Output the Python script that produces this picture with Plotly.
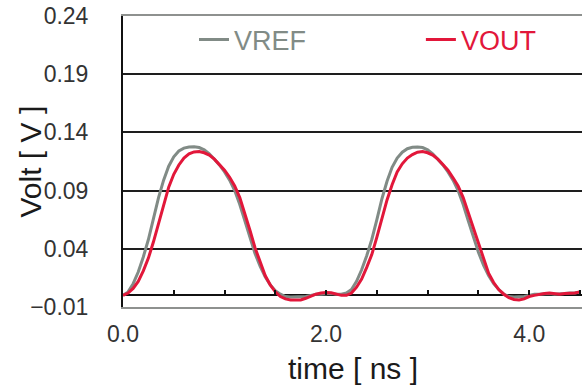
import plotly.graph_objects as go

time_ns = [0.00, 0.05, 0.10, 0.15, 0.20, 0.25, 0.30, 0.35, 0.40, 0.45,
           0.50, 0.55, 0.60, 0.65, 0.70, 0.75, 0.80, 0.85, 0.90, 0.95,
           1.00, 1.05, 1.10, 1.15, 1.20, 1.25, 1.30, 1.35, 1.40, 1.45,
           1.50, 1.55, 1.60, 1.65, 1.70, 1.75, 1.80, 1.85, 1.90, 1.95,
           2.00, 2.05, 2.10, 2.15, 2.20, 2.25, 2.30, 2.35, 2.40, 2.45,
           2.50, 2.55, 2.60, 2.65, 2.70, 2.75, 2.80, 2.85, 2.90, 2.95,
           3.00, 3.05, 3.10, 3.15, 3.20, 3.25, 3.30, 3.35, 3.40, 3.45,
           3.50, 3.55, 3.60, 3.65, 3.70, 3.75, 3.80, 3.85, 3.90, 3.95,
           4.00, 4.05, 4.10, 4.15, 4.20, 4.25, 4.30, 4.35, 4.40, 4.45, 4.50]

vref = [0.000, 0.003, 0.010, 0.020, 0.033, 0.048, 0.066, 0.084, 0.099, 0.111,
        0.119, 0.124, 0.1265, 0.1275, 0.1277, 0.127, 0.125, 0.1215, 0.117, 0.112,
        0.106, 0.099, 0.090, 0.078, 0.064, 0.049, 0.036, 0.025, 0.016, 0.009,
        0.004, 0.001, -0.001, -0.0015, -0.0015, -0.0015, -0.001, 0.000, 0.001, 0.001,
        0.0015, 0.0015, 0.001, 0.001, 0.002, 0.005, 0.012, 0.022, 0.034, 0.048,
        0.065, 0.083, 0.098, 0.110, 0.118, 0.123, 0.126, 0.1272, 0.1275, 0.127,
        0.125, 0.1215, 0.117, 0.112, 0.106, 0.099, 0.090, 0.078, 0.064, 0.050,
        0.037, 0.026, 0.017, 0.010, 0.005, 0.001, -0.001, -0.0015, -0.0015, -0.001,
        0.000, 0.001, 0.001, 0.0015, 0.0015, 0.001, 0.001, 0.0015, 0.002, 0.002, 0.003]

vout = [0.000, 0.002, 0.006, 0.012, 0.021, 0.032, 0.046, 0.062, 0.078, 0.093,
        0.104, 0.112, 0.118, 0.1215, 0.1232, 0.1235, 0.1225, 0.1205, 0.117, 0.1125,
        0.1075, 0.1015, 0.094, 0.084, 0.071, 0.056, 0.041, 0.028, 0.017, 0.009,
        0.003, -0.001, -0.003, -0.004, -0.0042, -0.004, -0.0025, -0.0005, 0.001, 0.002,
        0.0025, 0.0022, 0.0012, 0.000, 0.000, 0.002, 0.007, 0.014, 0.024, 0.035,
        0.050, 0.066, 0.082, 0.095, 0.106, 0.113, 0.118, 0.121, 0.123, 0.1235,
        0.1225, 0.1205, 0.117, 0.1125, 0.1075, 0.101, 0.094, 0.084, 0.071, 0.057,
        0.043, 0.030, 0.019, 0.011, 0.005, 0.001, -0.002, -0.0035, -0.004, -0.003,
        -0.001, 0.000, 0.001, 0.0015, 0.002, 0.0015, 0.001, 0.0015, 0.0015, 0.002, 0.003]

y_ticks = [-0.01, 0.04, 0.09, 0.14, 0.19, 0.24]
y_labels = ["\u22120.01", "0.04", "0.09", "0.14", "0.19", "0.24"]
x_ticks = [0, 2, 4]
x_labels = ["0.0", "2.0", "4.0"]

GRAY = "#818b86"
RED = "#e2173a"
FONT = "Liberation Sans"
TXT = "#333333"

fig = go.Figure()
fig.add_trace(go.Scatter(x=time_ns, y=vref, mode="lines", legend="legend",
                         name='<span style="color:%s">VREF</span>' % GRAY,
                         line=dict(color=GRAY, width=3)))
fig.add_trace(go.Scatter(x=time_ns, y=vout, mode="lines", legend="legend2",
                         name='<span style="color:%s">VOUT</span>' % RED,
                         line=dict(color=RED, width=3)))
# helper trace for the minor-tick axis drawn at y = 0
fig.add_trace(go.Scatter(x=[time_ns[0]], y=[vref[0]], xaxis="x2", mode="lines",
                         showlegend=False, hoverinfo="skip",
                         line=dict(color="rgba(0,0,0,0)")))

legend_common = dict(orientation="h", xanchor="left", y=0.918, yanchor="middle",
                     bgcolor="rgba(0,0,0,0)", font=dict(size=27, family=FONT))

fig.update_layout(
    width=582, height=385,
    margin=dict(l=123, r=0, t=16, b=78),
    paper_bgcolor="white", plot_bgcolor="white",
    font=dict(family=FONT, size=23, color=TXT),
    xaxis=dict(range=[0, 4.52], showgrid=False, zeroline=False,
               showline=True, linecolor="#8e918f", linewidth=2, mirror=True,
               tickvals=x_ticks, ticktext=x_labels, ticks="",
               ticklabelstandoff=5, tickfont=dict(size=23)),
    xaxis2=dict(range=[0, 4.52], overlaying="x", anchor="free", position=0.04,
                showgrid=False, zeroline=False, showline=False,
                showticklabels=False, ticks="inside", ticklen=5, tickwidth=2,
                tickcolor="#111111", tick0=0, dtick=0.5),
    yaxis=dict(range=[-0.01, 0.24], showgrid=True, gridcolor="#1e1e1e", gridwidth=2,
               zeroline=True, zerolinecolor="#111111", zerolinewidth=2,
               showline=True, linecolor="#111111", linewidth=2,
               tickvals=y_ticks, ticktext=y_labels, ticks="",
               ticklabelstandoff=28, tickfont=dict(size=23)),
    legend=dict(x=0.1547, **legend_common),
    legend2=dict(x=0.649, **legend_common),
    showlegend=True,
    annotations=[
        dict(text="time [ ns ]", xref="paper", yref="paper", x=0.5, y=0,
             xanchor="center", yanchor="middle", yshift=-61, showarrow=False,
             font=dict(size=30, family=FONT, color="#1a1a1a")),
        dict(text="Volt [ V ]", xref="paper", yref="paper", x=0, y=0.5,
             xanchor="center", yanchor="middle", xshift=-93, textangle=-90,
             showarrow=False, font=dict(size=30, family=FONT, color="#1a1a1a")),
    ],
)

fig.write_html("out.html")
